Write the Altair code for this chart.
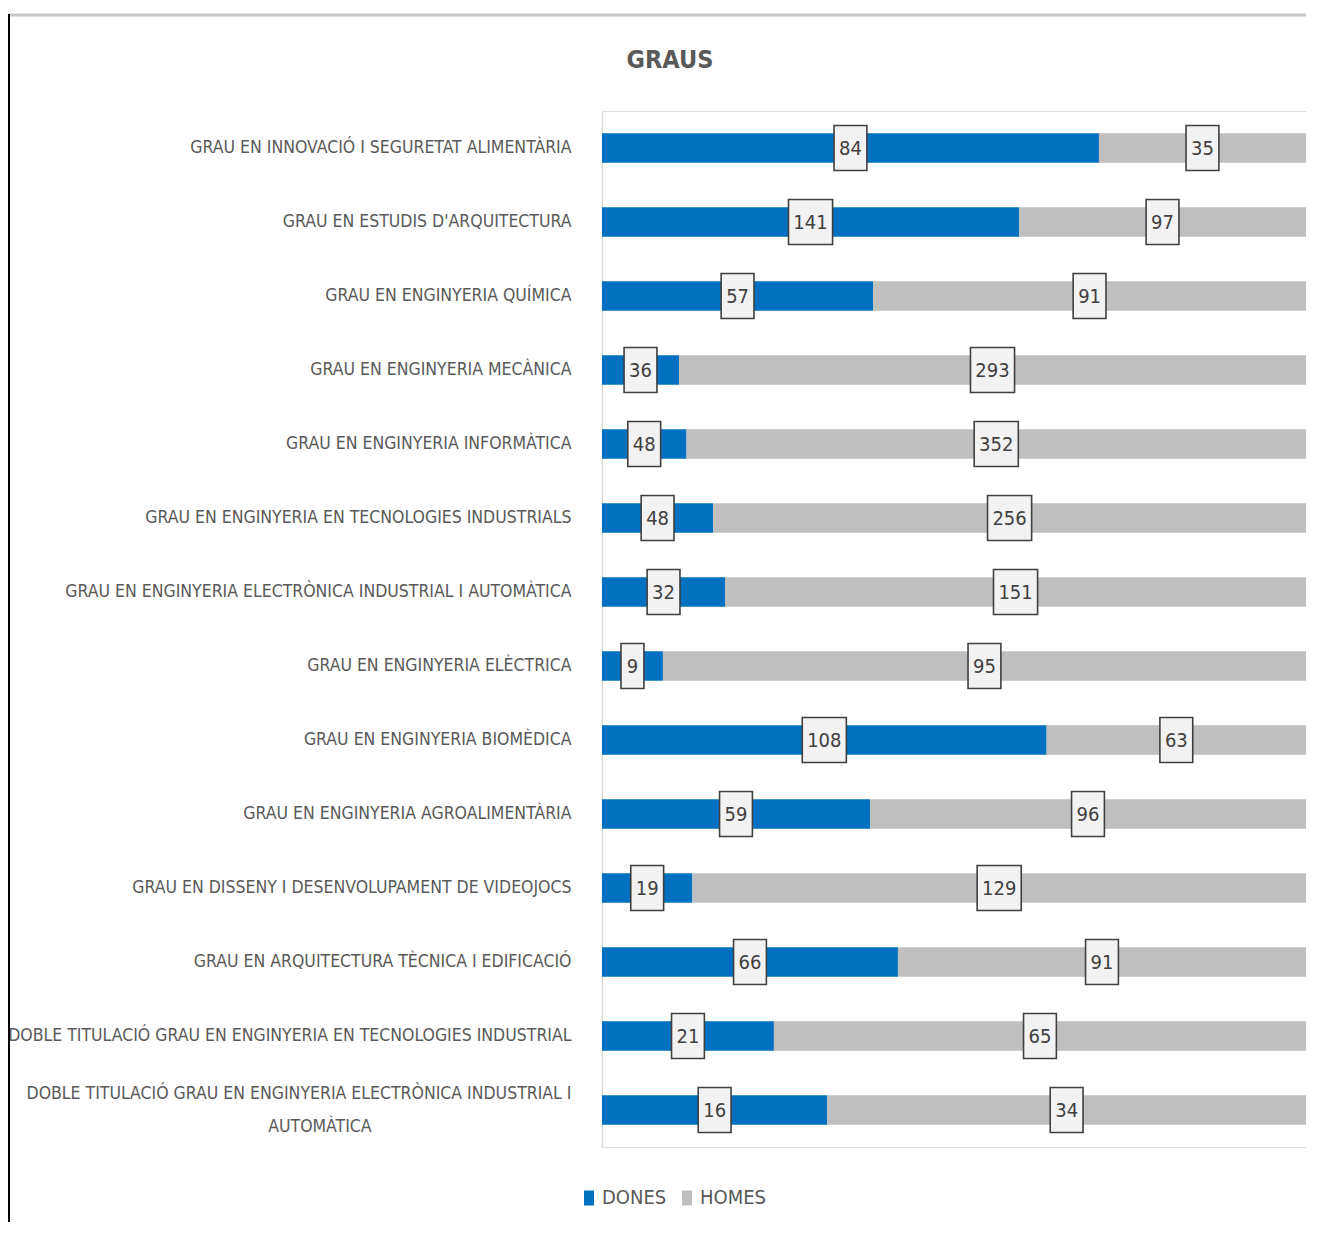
import altair as alt
import pandas as pd

categories = [
    "GRAU EN INNOVACIÓ I SEGURETAT ALIMENTÀRIA",
    "GRAU EN ESTUDIS D'ARQUITECTURA",
    "GRAU EN ENGINYERIA QUÍMICA",
    "GRAU EN ENGINYERIA MECÀNICA",
    "GRAU EN ENGINYERIA INFORMÀTICA",
    "GRAU EN ENGINYERIA EN TECNOLOGIES INDUSTRIALS",
    "GRAU EN ENGINYERIA ELECTRÒNICA INDUSTRIAL I AUTOMÀTICA",
    "GRAU EN ENGINYERIA ELÈCTRICA",
    "GRAU EN ENGINYERIA BIOMÈDICA",
    "GRAU EN ENGINYERIA AGROALIMENTÀRIA",
    "GRAU EN DISSENY I DESENVOLUPAMENT DE VIDEOJOCS",
    "GRAU EN ARQUITECTURA TÈCNICA I EDIFICACIÓ",
    "DOBLE TITULACIÓ GRAU EN ENGINYERIA EN TECNOLOGIES INDUSTRIAL",
    "DOBLE TITULACIÓ GRAU EN ENGINYERIA ELECTRÒNICA INDUSTRIAL I AUTOMÀTICA",
]
dones = [84, 141, 57, 36, 48, 48, 32, 9, 108, 59, 19, 66, 21, 16]
homes = [35, 97, 91, 293, 352, 256, 151, 95, 63, 96, 129, 91, 65, 34]
series = ["DONES", "HOMES"]
colors = ["#0070C0", "#BFBFBF"]

rows = []
for c, d, h in zip(categories, dones, homes):
    t = d + h
    rows.append(dict(cat=c, serie="DONES", value=d, start=0.0, end=d / t,
                     mid=d / t / 2, digits=str(len(str(d))), order=0))
    rows.append(dict(cat=c, serie="HOMES", value=h, start=d / t, end=1.0,
                     mid=(d / t + 1) / 2, digits=str(len(str(h))), order=1))
df = pd.DataFrame(rows)

FONT = "DejaVu Sans Condensed, DejaVu Sans, sans-serif"
NB = "\u00a0"
ZW = "\u200b"
long_cat = categories[-1]
label_expr = (
    "datum.label == '" + long_cat + "' ? "
    "['DOBLE TITULACIÓ GRAU EN ENGINYERIA ELECTRÒNICA INDUSTRIAL I', 'AUTOMÀTICA"
    + NB * 40 + ZW + "'] : datum.label"
)

y_enc = alt.Y(
    "cat:N", sort=categories, title=None,
    scale=alt.Scale(paddingInner=0.6, paddingOuter=0.3),
    axis=alt.Axis(
        labelFont=FONT, labelFontSize=17.5, labelColor="#595959",
        labelPadding=31, ticks=False, tickSize=0, domainColor="#D9D9D9",
        domainWidth=1.5, labelLimit=700, labelExpr=label_expr,
        labelLineHeight=33, grid=False,
        labelOffset={"condition": {"test": "datum.label == '" + long_cat + "'", "value": -16}, "value": 0},
    ),
)
x_scale = alt.Scale(domain=[0, 1], nice=False, zero=True)

bars = alt.Chart(df).mark_bar(opacity=1).encode(
    x=alt.X("start:Q", scale=x_scale, axis=None),
    x2="end:Q",
    y=y_enc,
    color=alt.Color(
        "serie:N", scale=alt.Scale(domain=series, range=colors),
        legend=alt.Legend(
            orient="none", legendX=-23, legendY=1077, direction="horizontal",
            title=None, labelFont=FONT, labelFontSize=20, labelColor="#595959",
            symbolType="M-0.67,-1H0.67V1H-0.67Z", symbolSize=225,
            symbolStrokeWidth=0, columnPadding=10, labelOffset=3,
        ),
    ),
    order=alt.Order("order:Q"),
)

paths = [
    "M-0.51,-1H0.51V1H-0.51Z",
    "M-0.73,-1H0.73V1H-0.73Z",
    "M-0.98,-1H0.98V1H-0.98Z",
]
boxes = alt.Chart(df).mark_point(
    filled=True, fill="#F2F2F2", stroke="#404040", strokeWidth=1.6,
    opacity=1, fillOpacity=1, size=2025,
).encode(
    x=alt.X("mid:Q", scale=x_scale, axis=None),
    y=y_enc,
    shape=alt.Shape("digits:N", scale=alt.Scale(domain=["1", "2", "3"], range=paths), legend=None),
)

labels = alt.Chart(df).mark_text(
    font=FONT, fontSize=20, color="#404040", baseline="middle", dy=1,
).encode(
    x=alt.X("mid:Q", scale=x_scale, axis=None),
    y=y_enc,
    text="value:Q",
)

frame = pd.DataFrame({"k": [0]})
frame_top = alt.Chart(frame).mark_rule(color="#C8C8C8", strokeWidth=3).encode(
    x=alt.value(-593), x2=alt.value(720), y=alt.value(-96)
)
frame_left = alt.Chart(frame).mark_rule(color="#000000", strokeWidth=2).encode(
    x=alt.value(-593), y=alt.value(-97), y2=alt.value(1140)
)

chart = alt.layer(bars, boxes, labels, frame_top, frame_left).properties(
    width=704, height=1036,
    title=alt.Title(
        "GRAUS", font=FONT, fontSize=25, fontWeight="bold", color="#595959",
        anchor="middle", frame="group", dx=-284, offset=-60,
    ),
    autosize=alt.AutoSizeParams(type="none"),
    padding={"left": 594, "top": 103, "right": 0, "bottom": 75},
).configure_view(stroke=None).configure(background="white")

chart.save("out.html", embed_options={"renderer": "svg", "actions": False})
